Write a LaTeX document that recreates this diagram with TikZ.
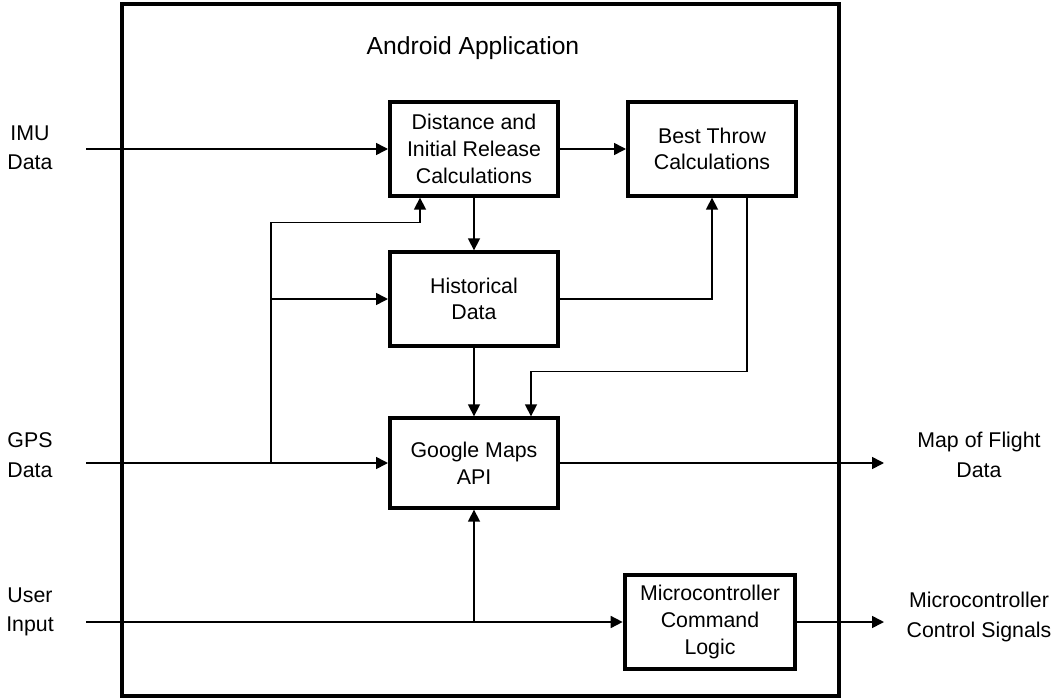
\documentclass[tikz,border=0pt]{standalone}
\usepackage{fontspec}
\setmainfont{Liberation Sans}
\usetikzlibrary{arrows.meta,calc}

\tikzset{
  blk/.style={draw, line width=3pt, minimum width=126pt, minimum height=70pt, align=center, font=\fontsize{16}{20}\selectfont},
  lbl/.style={align=center, font=\fontsize{16}{22}\selectfont},
  arr/.style={line width=1.2pt, -{Triangle[length=9pt,width=9pt]}},
}

\begin{document}
\begin{tikzpicture}[x=0.75pt, y=-0.75pt]
\useasboundingbox (0,0) rectangle (1058,700);
\node [draw, line width=3pt, minimum width=538pt, minimum height=519pt] (app) at (480.5,349.5) {};
\node [font=\fontsize{18.5}{20}\selectfont] (title) at (473,48) {Android Application};

\node [blk] (dist) at (474,149) {Distance and\\Initial Release\\Calculations};
\node [blk] (best) at (712,149) {Best Throw\\Calculations};
\node [blk] (hist) at (474,299) {Historical\\Data};
\node [blk, minimum height=67pt] (maps) at (474,463) {Google Maps\\API};
\node [blk, minimum width=128pt] (micro) at (710,622) {Microcontroller\\Command\\Logic};

% inputs and outputs
\node [lbl] (imulbl) at (30,148) {IMU\\Data};
\node [lbl] (gpslbl) at (30,455) {GPS\\Data};
\node [lbl] (usrlbl) at (30,612) {User\\Input};
\node [lbl] (maplbl) at (979,455) {Map of Flight\\Data};
\node [lbl] (ctllbl) at (979,617) {Microcontroller\\Control Signals};

\coordinate (imu) at (86,149);
\coordinate (gps) at (86,463);
\coordinate (usr) at (86,622);
\coordinate (gpsjoin) at (271,463);
\coordinate (mapout) at (884,463);
\coordinate (ctlout) at (884,622);

\draw [arr] (imu) -- (dist.west);
\draw [arr] (dist.east) -- (best.west);
\draw [arr] (dist.south) -- (hist.north);
\draw [arr] (hist.east) -| (best.south);
\draw [arr] ($(best.south)+(35,0)$) |- ($(maps.north)+(57,-45)$) -- ($(maps.north)+(57,0)$);
\draw [arr] (hist.south) -- (maps.north);

\draw [arr] (gps) -- (maps.west);
\draw [arr] (gpsjoin) |- ($(dist.south)+(-54,25)$) -- ($(dist.south)+(-54,0)$);
\draw [arr] (gpsjoin |- hist.west) -- (hist.west);
\draw [arr] (maps.east) -- (mapout);

\draw [arr] (usr) -- (micro.west);
\draw [arr] (usr -| maps.south) -- (maps.south);
\draw [arr] (micro.east) -- (ctlout);
\end{tikzpicture}
\end{document}
